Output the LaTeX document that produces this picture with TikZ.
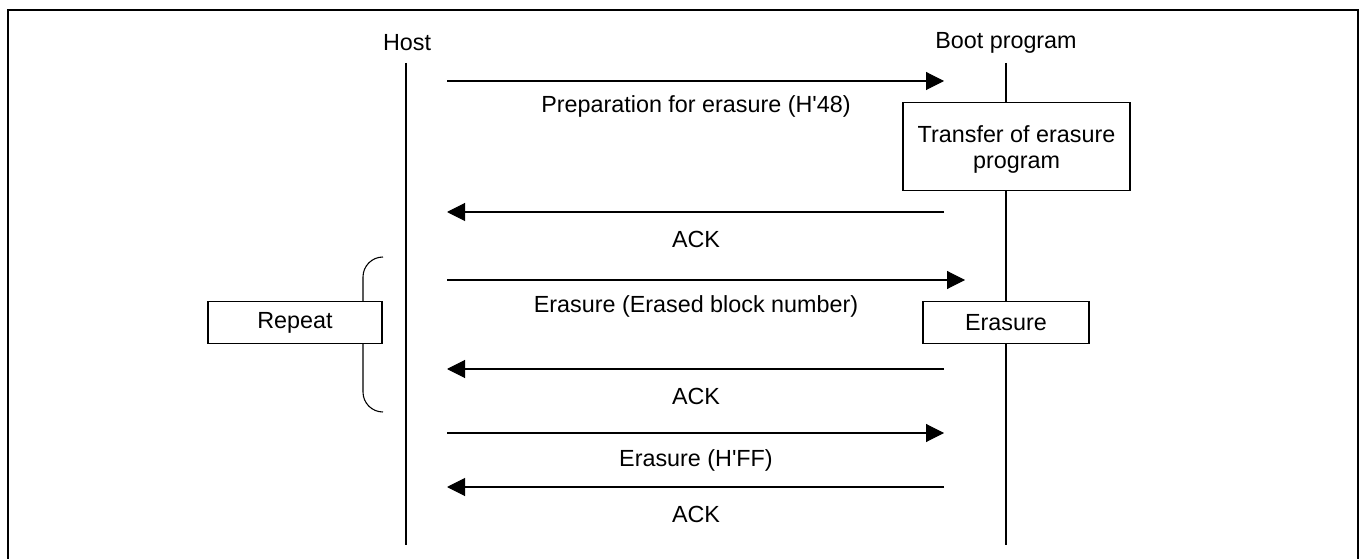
\documentclass[tikz,border=0pt]{standalone}
\usepackage{fontspec}
\setmainfont{Liberation Sans}
\usetikzlibrary{arrows.meta}
\begin{document}
\begin{tikzpicture}[x=0.75pt,y=-0.75pt,
  every node/.style={font=\fontsize{17.5}{19.5}\selectfont, inner sep=0pt},
  line/.style={line width=0.8pt, draw=black},
  msg/.style={line, -{Triangle[length=13.5pt,width=13.5pt]}},
  lbl/.style={anchor=center},
  box/.style={line, fill=white, align=center}]
\useasboundingbox (0,0) rectangle (1363,559);
% frame
\draw[line width=1.6pt] (8,559) -- (8,10) -- (1358,10) -- (1358,559);
% participants
\node[lbl] (host) at (407,43) {Host};
\node[lbl] (boot) at (1006,43) {Boot program};
\coordinate (h0) at (406,63); \coordinate (h1) at (406,545);
\coordinate (b0) at (1006,63); \coordinate (b1) at (1006,545);
\draw[line] (h0) -- (h1);
\draw[line] (b0) -- (b1);
% message 1
\coordinate (m1s) at (447,81); \coordinate (m1e) at (944,81);
\draw[msg] (m1s) -- (m1e);
\node[lbl] (t1) at (696,106) {Preparation for erasure (H\textquotesingle 48)};
\node[box, minimum width=227*0.75pt, minimum height=88*0.75pt] (tr) at (1016.5,146.5) {};
\node[lbl, align=center] (trt) at (1016.5,149) {Transfer of erasure\\program};
% ack 1
\coordinate (a1s) at (944,212); \coordinate (a1e) at (447,212);
\draw[msg] (a1s) -- (a1e);
\node[lbl] (t2) at (696,239) {ACK};
% message 2
\coordinate (m2s) at (447,280); \coordinate (m2e) at (965,280);
\draw[msg] (m2s) -- (m2e);
\node[lbl] (t3) at (696,306) {Erasure (Erased block number)};
% brace
\coordinate (br0) at (383,257); \coordinate (br1) at (383,412);
\draw[line] (br0) to[out=180,in=90] (363,277) -- (363,392) to[out=-90,in=180] (br1);
\node[box, minimum width=174*0.75pt, minimum height=42*0.75pt] (rep) at (295,322.5) {Repeat};
\node[box, minimum width=166*0.75pt, minimum height=42*0.75pt] (er) at (1006,322.5) {Erasure};
% ack 2
\coordinate (a2s) at (944,369); \coordinate (a2e) at (447,369);
\draw[msg] (a2s) -- (a2e);
\node[lbl] (t4) at (696,396) {ACK};
% message 3
\coordinate (m3s) at (447,433); \coordinate (m3e) at (944,433);
\draw[msg] (m3s) -- (m3e);
\node[lbl] (t5) at (696,460) {Erasure (H\textquotesingle FF)};
% ack 3
\coordinate (a3s) at (944,487); \coordinate (a3e) at (447,487);
\draw[msg] (a3s) -- (a3e);
\node[lbl] (t6) at (696,514) {ACK};
\end{tikzpicture}
\end{document}
